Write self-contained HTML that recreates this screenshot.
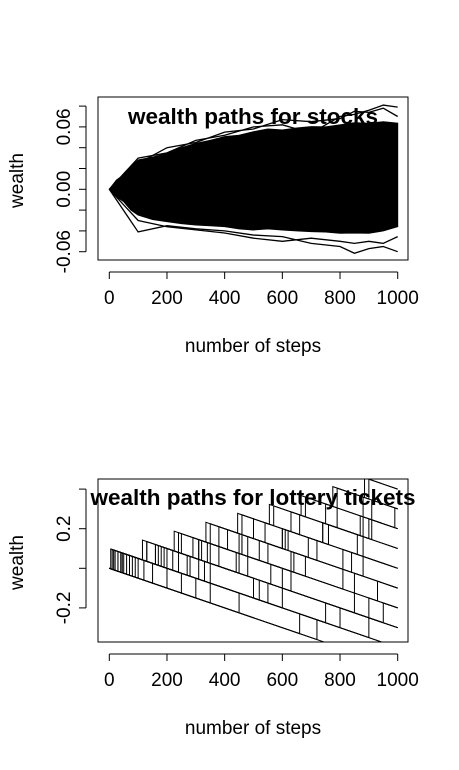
<!DOCTYPE html>
<html><head><meta charset="utf-8"><style>
body{margin:0;background:#fff}
svg text{font-family:"Liberation Sans",Arial,sans-serif;fill:#000}
</style></head><body>
<svg id="s" width="459" height="765" xmlns="http://www.w3.org/2000/svg">
<defs><clipPath id="c1"><rect x="98" y="97" width="310" height="163"/></clipPath><clipPath id="c2"><rect x="98" y="479" width="310" height="163"/></clipPath></defs>
</svg>
<script>
// ---- stocks data ----
const stockSteps=[0,25,50,75,100,150,200,250,300,350,400,450,500,550,600,650,700,750,800,850,900,950,1000];
const stockUpper=[0,0.009,0.0138,0.022,0.0282,0.031,0.0346,0.04,0.0442,0.047,0.0506,0.052,0.0554,0.058,0.057,0.059,0.0603,0.06,0.0619,0.064,0.0635,0.065,0.0635];
const stockLower=[0,-0.007,-0.0119,-0.02,-0.0247,-0.029,-0.0311,-0.033,-0.0343,-0.035,-0.0359,-0.038,-0.0391,-0.038,-0.0391,-0.04,-0.0407,-0.041,-0.0423,-0.042,-0.0423,-0.04,-0.0359];
const outSteps=[0,100,200,300,400,500,600,700,800,850,900,950,1000];
const outHigh1=[0,0.03,0.035,0.047,0.052,0.06,0.062,0.054,0.07,0.072,0.076,0.081,0.079];
const outHigh2=[0,0.025,0.04,0.045,0.055,0.058,0.067,0.065,0.068,0.075,0.074,0.078,0.07];
const outLow1=[0,-0.041,-0.035,-0.038,-0.04,-0.044,-0.0455,-0.052,-0.055,-0.0615,-0.057,-0.055,-0.06];
const outLow2=[0,-0.03,-0.036,-0.039,-0.042,-0.047,-0.05,-0.047,-0.05,-0.052,-0.05,-0.052,-0.0455];
const stockYTicks=[-0.08,-0.06,-0.04,-0.02,0,0.02,0.04,0.06,0.08];
const stockYLabels=["-0.06","0.00","0.06"];
const xTicks=[0,200,400,600,800,1000];
// ---- lottery data: jump steps per ticket path ----
const lotJumps=[[],[660],[720],[300,800],[450,900],[150,500,850],[250,600,950],
[100,350,600,850],[60,310,560,810],[80,280,480,680,880],[40,240,440,640,840],
[50,220,380,550,720,880],[20,190,350,520,690,860],[30,170,310,450,600,740,880],
[70,200,340,480,620,760,900],[10,130,250,380,500,630,750,880],[40,160,290,410,540,660,790,910],
[20,130,240,350,460,570,680,790,900],[5,115,225,335,445,555,665,775,885],
[120,520],[350,750],[200,550,900],[30,330,630,930],[90,270,450,630,810],
[15,160,310,460,610,760,910],[45,180,320,460,600,740,870,990]];
const lotJumpSize=0.1;
const lotDecay=0.0005;
const lotYTicks=[-0.4,-0.2,0,0.2,0.4];
const lotYLabels=["-0.2","0.2"];

const NS="http://www.w3.org/2000/svg",S=document.getElementById('s');
function mk(t,a,p){const e=document.createElementNS(NS,t);for(const k in a)e.setAttribute(k,a[k]);(p||S).appendChild(e);return e;}
const xs=v=>109.3+v*(397.7-109.3)/1000;
const ys1=v=>189.3-v/0.02*20.8;
const ys2=v=>568.3-v/0.2*39.6;

function frame(top,bot,yt,ys,ylabs,pre,titleTxt,titleY){
  const g=mk('g',{});
  
  
  const b=mk('rect',{x:98,y:top,width:310,height:bot-top,fill:'none',stroke:'#000','stroke-width':1},g);
  
  const xa=mk('g',{},g);
  mk('line',{x1:xs(0),x2:xs(1000),y1:bot+12,y2:bot+12,stroke:'#000'},xa);
  xTicks.forEach(t=>{mk('line',{x1:xs(t),x2:xs(t),y1:bot+12,y2:bot+19,stroke:'#000'},xa);
    const tx=mk('text',{x:xs(t),y:bot+44,'text-anchor':'middle','font-size':19},xa);tx.textContent=t;
    });
  const ya=mk('g',{},g);
  const inY=yt.map(ys).filter(y=>y>=top-1&&y<=bot+1);
  mk('line',{x1:86,x2:86,y1:Math.min(...inY),y2:Math.max(...inY),stroke:'#000'},ya);
  yt.forEach(t=>{const y=ys(t);if(y<top-1||y>bot+1)return;mk('line',{x1:79,x2:86,y1:y,y2:y,stroke:'#000'},ya);});
  ylabs.forEach(l=>{const y=ys(parseFloat(l));const tx=mk('text',{x:70,y:y,'text-anchor':'middle','font-size':19,transform:`rotate(-90 70 ${y})`},ya);tx.textContent=l;
    });
  const xl=mk('text',{x:253,y:bot+92,'text-anchor':'middle','font-size':19},g);xl.textContent='number of steps';
  
  const cy=(top+bot)/2+2;
  const yl=mk('text',{x:23,y:cy,'text-anchor':'middle','font-size':19,transform:`rotate(-90 23 ${cy})`},g);yl.textContent='wealth';
  
  return {g,title:()=>{const t=mk('text',{x:253,y:titleY,'text-anchor':'middle','font-size':22.5,'font-weight':'bold'},g);t.textContent=titleTxt;
    }};
}

// stocks
const f1=frame(97,260,stockYTicks,ys1,stockYLabels,'stocks','wealth paths for stocks',124);
const g1=mk('g',{'clip-path':'url(#c1)'},f1.g);
let pts=stockSteps.map((s,i)=>xs(s)+','+ys1(stockUpper[i])).concat(stockSteps.slice().reverse().map((s,i)=>{const j=stockSteps.length-1-i;return xs(s)+','+ys1(stockLower[j]);}));
const band=mk('polygon',{points:pts.join(' '),fill:'#000',stroke:'#000','stroke-width':1},g1);

[outHigh1,outHigh2,outLow1,outLow2].forEach(arr=>{
  const p=mk('polyline',{points:outSteps.map((s,i)=>xs(s)+','+ys1(arr[i])).join(' '),fill:'none',stroke:'#000','stroke-width':1.3},g1);
  });
f1.title();

// lottery
const f2=frame(479,642,lotYTicks,ys2,lotYLabels,'lottery','wealth paths for lottery tickets',505);
const g2=mk('g',{'clip-path':'url(#c2)'},f2.g);
lotJumps.forEach(js=>{
  let p=[],w=0,prev=0;p.push(xs(0)+','+ys2(0));
  js.forEach(j=>{w-=lotDecay*(j-prev);p.push(xs(j)+','+ys2(w));w+=lotJumpSize;p.push(xs(j)+','+ys2(w));prev=j;});
  w-=lotDecay*(1000-prev);p.push(xs(1000)+','+ys2(w));
  const l=mk('polyline',{points:p.join(' '),fill:'none',stroke:'#000','stroke-width':1},g2);
  
});
f2.title();
</script>
</body></html>
